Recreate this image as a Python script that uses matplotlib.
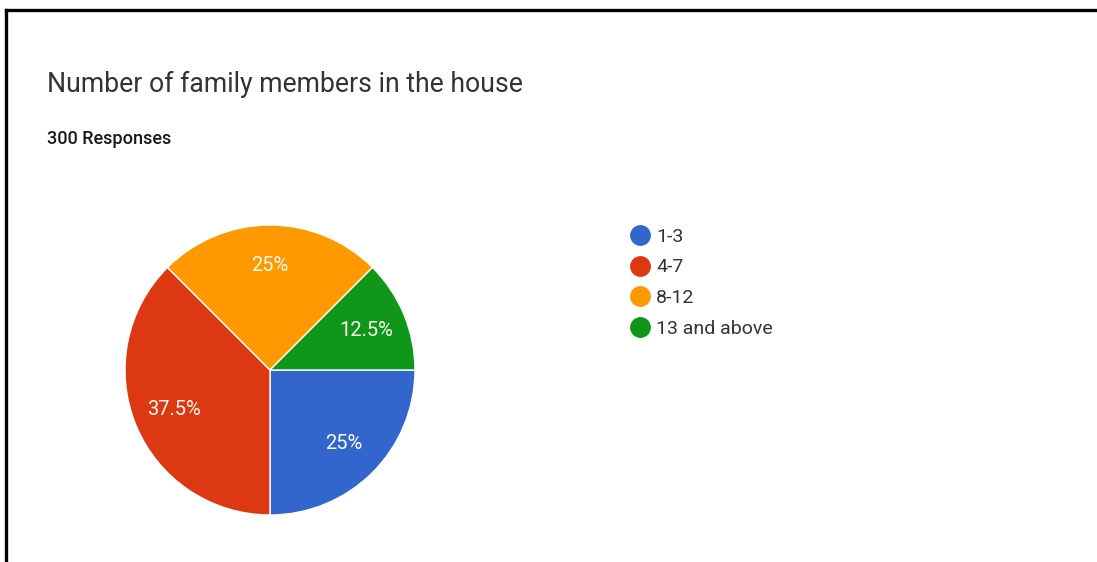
import matplotlib.pyplot as plt
from matplotlib.lines import Line2D

# family size survey data
categories = ['1-3', '4-7', '8-12', '13 and above']
shares = [25, 37.5, 25, 12.5]
colors = ['#3366cc', '#dc3912', '#ff9900', '#109618']
title = 'Number of family members in the house'
subtitle = '300 Responses'

plt.rcParams['font.family'] = ['Roboto', 'DejaVu Sans']

W, H = 1097, 562
fig = plt.figure(figsize=(W / 100, H / 100), dpi=100)
fig.patch.set_facecolor('white')

# frame lines along the top and left edges
fig.add_artist(Line2D([6 / W, 1.0], [1 - 10 / H, 1 - 10 / H], color='black', lw=2.4))
fig.add_artist(Line2D([6 / W, 6 / W], [0, 1 - 10 / H], color='black', lw=2.4))

fig.text(47 / W, 1 - 84 / H, title, fontsize=19.2, color='#333333', va='center', ha='left')
fig.text(47 / W, 1 - 139 / H, subtitle, fontsize=13, color='#1a1a1a', va='center', ha='left',
         fontweight='medium')

# pie: centre (270, 370) px, radius 145 px
cx, cy, r = 270, 370, 145
ax = fig.add_axes([(cx - r) / W, (H - cy - r) / H, 2 * r / W, 2 * r / H])
wedges, texts, autotexts = ax.pie(
    shares, colors=colors, startangle=0, counterclock=False,
    autopct=lambda p: f'{p:g}%', pctdistance=0.72,
    wedgeprops=dict(edgecolor='white', linewidth=1),
    textprops=dict(color='#fbfbf0', fontsize=14.5))
ax.set_xlim(-1, 1)
ax.set_ylim(-1, 1)
ax.set_aspect('auto')
ax.axis('off')

handles = [Line2D([], [], marker='o', linestyle='none', markersize=14,
                  markerfacecolor=c, markeredgecolor=c) for c in colors]
fig.legend(handles, categories, loc='upper left',
           bbox_to_anchor=(622 / W, 1 - 220 / H), frameon=False,
           fontsize=14, handletextpad=0.25, labelspacing=0.65,
           handlelength=1.1, borderaxespad=0, labelcolor='#333333')

fig.savefig('out.png', dpi=100)
